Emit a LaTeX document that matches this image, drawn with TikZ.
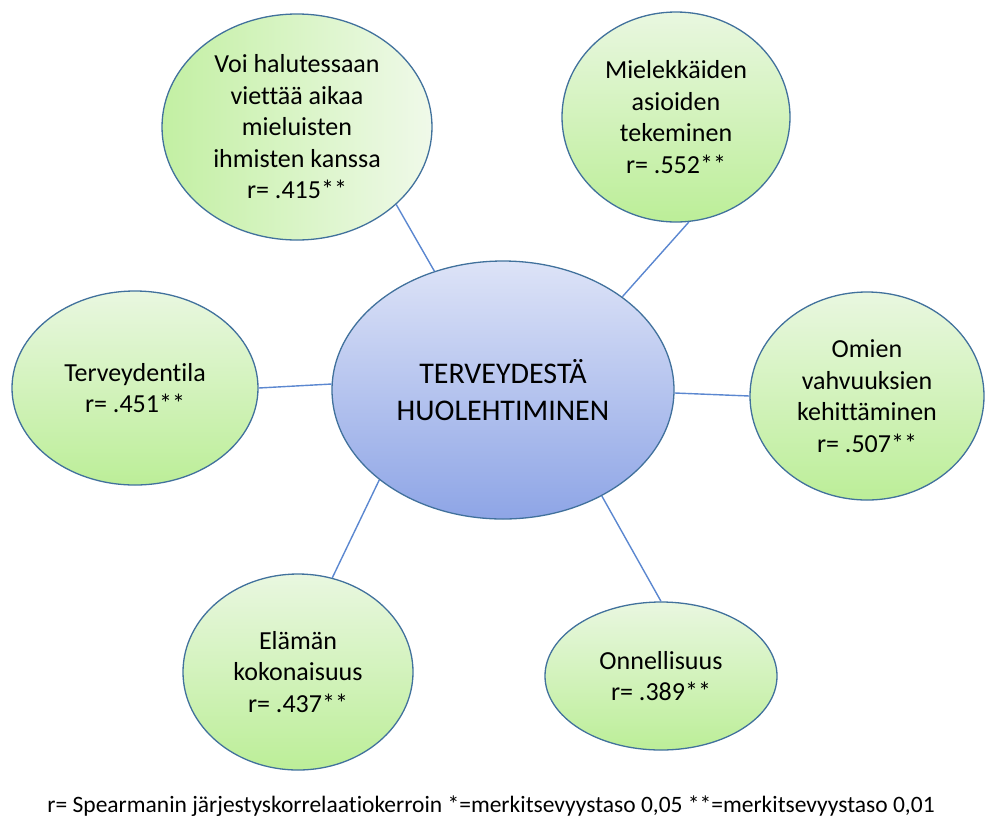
\documentclass[tikz,border=0pt]{standalone}
\usepackage{fontspec}
\setmainfont{Carlito}[Ligatures=NoCommon]
\usepackage{tikz}
\usetikzlibrary{shapes, positioning, calc}
\definecolor{rim}{HTML}{41719C}
\definecolor{wire}{HTML}{5B87D0}
\definecolor{greentop}{HTML}{E9F7E0}
\definecolor{greenbot}{HTML}{BCEE98}
\definecolor{bluetop}{HTML}{DDE3F7}
\definecolor{bluebot}{HTML}{8EA5E6}

\begin{document}
\begin{tikzpicture}[x=1pt, y=-1pt,
  bubble/.style={ellipse, draw=rim, line width=1.3pt, inner sep=0pt, align=center,
    top color=greentop, bottom color=greenbot, font=\fontsize{26}{31.5}\selectfont},
  hub/.style={ellipse, draw=rim, line width=1.3pt, inner sep=0pt, align=center,
    top color=bluetop, bottom color=bluebot, font=\fontsize{30}{37}\selectfont},
  wire/.style={draw=wire, line width=1.4pt}]
\useasboundingbox (0,0) rectangle (985,823);
\node[hub, minimum width=342pt, minimum height=258pt] (health) at (503,390) {TERVEYDESTÄ\\HUOLEHTIMINEN};
\node[bubble, left color=greenbot!85!greentop, right color=greentop!70!white, minimum width=270pt, minimum height=226pt] (company) at (297,127) {Voi halutessaan\\viettää aikaa\\mieluisten\\ihmisten kanssa\\r= .415**};
\node[bubble, minimum width=228pt, minimum height=210pt] (meaning) at (676,117) {Mielekkäiden\\asioiden\\tekeminen\\r= .552**};
\node[bubble, minimum width=246pt, minimum height=194pt] (condition) at (135,388) {Terveydentila\\r= .451**};
\node[bubble, minimum width=234pt, minimum height=208pt] (strengths) at (867,396) {Omien\\vahvuuksien\\kehittäminen\\r= .507**};
\node[bubble, minimum width=230pt, minimum height=196pt] (whole) at (298,672) {Elämän\\kokonaisuus\\r= .437**};
\node[bubble, minimum width=232pt, minimum height=148pt] (happiness) at (661,676) {Onnellisuus\\r= .389**};
\draw[wire] (health.120.9) -- (company.-38.2);
\draw[wire] (health.38.8) -- (meaning.-83.7);
\draw[wire] (health.178) -- (condition.0);
\draw[wire] (health.-1) -- (strengths.180);
\draw[wire] (health.216.8) -- (whole.70.9);
\draw[wire] (health.-47.8) -- (happiness.90);
\node[font=\fontsize{23.5}{28}\selectfont] (note) at (491,806) {r= Spearmanin järjestyskorrelaatiokerroin *=merkitsevyystaso 0,05 **=merkitsevyystaso 0,01};
\end{tikzpicture}
\end{document}
